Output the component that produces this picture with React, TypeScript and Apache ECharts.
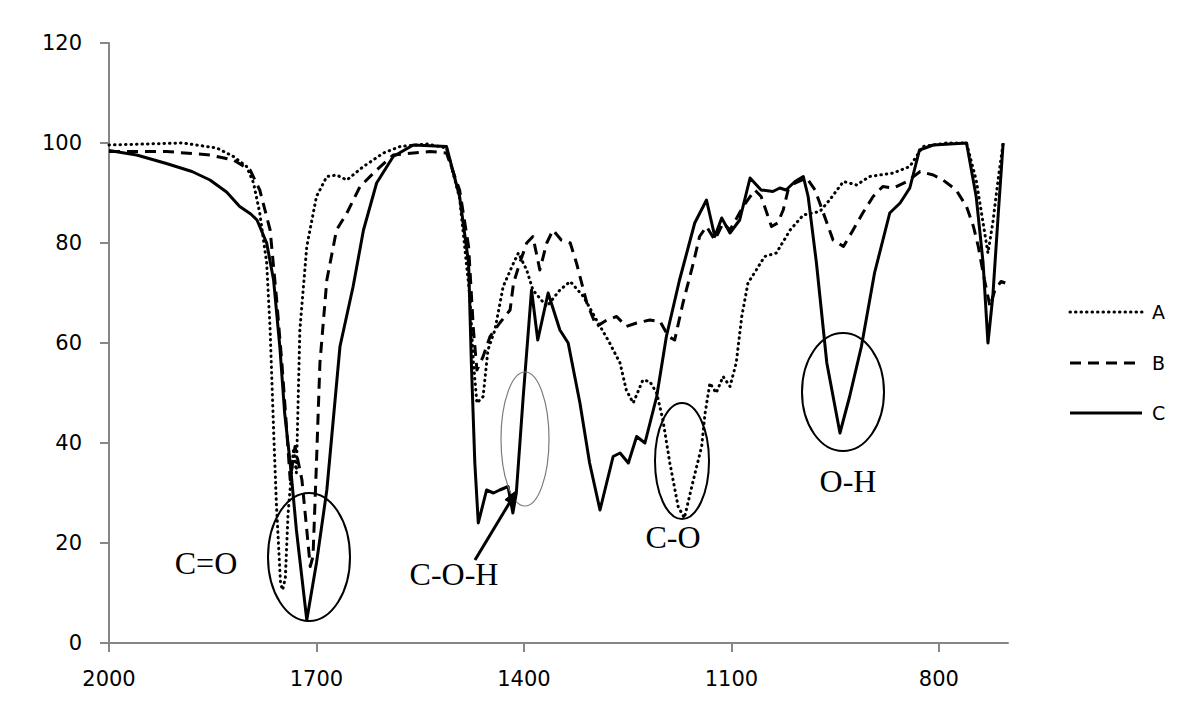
import React, { useEffect, useRef } from "react";
import * as echarts from "echarts";

const xTicks = [2000, 1700, 1400, 1100, 800];
const legendNames = ["A", "B", "C"];

const seriesA: [number, number][] = [
  [2000, 99.6], [1893, 100], [1844, 99], [1820, 97.3], [1801, 95.3], [1791, 92], [1782, 86],
  [1772, 76], [1767, 62.6], [1762, 42.6], [1758, 28], [1752, 12], [1749, 10.6], [1745, 13],
  [1741, 26], [1733, 39], [1729, 34], [1724, 62.6], [1714, 79.3], [1700, 89.3], [1685, 93.3],
  [1671, 93.6], [1656, 92.6], [1632, 95.3], [1603, 98], [1579, 99.3], [1540, 99.8], [1512, 99],
  [1493, 89], [1478, 69], [1473, 56], [1468, 48], [1459, 49.3], [1452, 58.6], [1442, 62.6],
  [1430, 71.3], [1415, 76], [1408, 78], [1396, 74.6], [1387, 70.6], [1367, 67.3], [1348, 70.6],
  [1333, 72.3], [1314, 69.3], [1295, 64.6], [1276, 60], [1261, 56], [1252, 50.6], [1242, 48],
  [1228, 52.6], [1218, 52.3], [1208, 50], [1199, 44.6], [1189, 36], [1177, 27.3], [1168, 25],
  [1155, 32.6], [1143, 39.3], [1138, 46], [1131, 52], [1122, 50], [1112, 53.3], [1102, 51.3],
  [1093, 56], [1085, 65.3], [1076, 72], [1064, 74.6], [1052, 77.3], [1035, 78], [1015, 82.6],
  [996, 85.6], [972, 86.3], [958, 88.6], [938, 92.3], [919, 91.6], [900, 93.3], [866, 94],
  [842, 95.3], [823, 99.3], [789, 100], [760, 100], [746, 92.6], [736, 84], [729, 78],
  [722, 84], [714, 93], [707, 100],
];

const seriesB: [number, number][] = [
  [2000, 98.3], [1917, 98.3], [1854, 97.6], [1820, 96.6], [1796, 94.6], [1782, 90.6],
  [1767, 82.6], [1758, 69.3], [1750, 56], [1743, 42.6], [1738, 32.6], [1731, 39.3],
  [1721, 32.6], [1714, 22.6], [1709, 15.3], [1705, 17.3], [1700, 36], [1695, 56],
  [1685, 72.6], [1671, 82.6], [1656, 86], [1637, 91.3], [1613, 94.6], [1589, 97.6],
  [1536, 98.3], [1512, 98], [1493, 90.6], [1480, 79.3], [1473, 62.6], [1468, 54.6],
  [1459, 57.3], [1449, 61.3], [1435, 64], [1420, 66.6], [1415, 72], [1406, 76], [1396, 80],
  [1387, 81.3], [1377, 74.6], [1367, 80], [1358, 82.6], [1346, 80.6], [1333, 80], [1324, 76],
  [1309, 68], [1295, 63.3], [1280, 64.6], [1266, 65.3], [1252, 63.3], [1237, 64], [1218, 64.6],
  [1203, 64.3], [1191, 61.3], [1182, 60.6], [1170, 68], [1155, 76], [1146, 81.3], [1136, 83.3],
  [1124, 80.6], [1112, 84], [1102, 82.6], [1083, 87.3], [1066, 90.6], [1057, 89.3],
  [1047, 85.3], [1042, 83.3], [1033, 84], [1025, 86.6], [1018, 90.6], [1008, 92], [991, 93],
  [979, 90.6], [967, 86], [953, 80.6], [938, 79.3], [924, 82.6], [910, 86], [895, 89.3],
  [881, 91.3], [866, 91], [846, 92.3], [827, 94.3], [808, 93.6], [794, 92.6], [775, 90.6],
  [760, 87.3], [750, 83.3], [743, 79.3], [734, 72.6], [726, 67.3], [719, 70.6], [710, 72.3],
  [704, 72],
];

const seriesC: [number, number][] = [
  [2000, 98.5], [1960, 97.6], [1917, 95.9], [1880, 94.3], [1854, 92.6], [1830, 90.2],
  [1811, 87.3], [1795, 85.8], [1786, 84.6], [1772, 80],
  [1762, 72.6], [1753, 59.3], [1746, 46], [1738, 36], [1729, 22.6], [1714, 4.6], [1700, 16],
  [1685, 30.6], [1666, 59.3], [1647, 71.3], [1632, 82.6], [1613, 92], [1589, 97.3],
  [1560, 99.6], [1512, 99.3], [1493, 89.3], [1480, 76], [1476, 56], [1471, 36], [1466, 24],
  [1454, 30.6], [1444, 30], [1435, 30.6], [1423, 31.3], [1416, 26], [1411, 30], [1401, 49.3],
  [1389, 70.6], [1380, 60.6], [1365, 70], [1348, 62.6], [1336, 60], [1319, 48], [1305, 36],
  [1290, 26.6], [1271, 37.3], [1261, 38], [1249, 36], [1237, 41.3], [1225, 40], [1208, 49.3],
  [1194, 61.3], [1175, 72.6], [1153, 84], [1136, 88.6], [1124, 81.3], [1114, 85], [1102, 82],
  [1088, 84.6], [1073, 93], [1057, 90.6], [1040, 90.3], [1030, 91], [1021, 90.6], [1008, 92.3],
  [996, 93.3], [989, 89.3], [977, 76], [962, 56], [943, 42], [929, 49.3], [912, 59.3],
  [893, 74], [871, 86], [856, 88], [842, 91], [828, 98.6], [808, 99.6], [760, 100],
  [746, 89.3], [736, 76], [729, 60], [722, 69.3], [714, 86], [707, 100],
];

const annotationLabels = ["C=O", "C-O-H", "C-O", "O-H"];

const axisFont = "DejaVu Sans";
const serifFont = "Liberation Serif";

export default function App() {
  const ref = useRef<HTMLDivElement>(null);

  useEffect(() => {
    if (!ref.current) return;
    const chart = echarts.init(ref.current, undefined, { renderer: "svg" });

    const axisLineStyle = { color: "#868686", width: 2 };

    const ellipse = (cx: number, cy: number, rx: number, ry: number, stroke = "#000", lw = 2) => ({
      type: "ellipse",
      shape: { cx, cy, rx, ry },
      style: { fill: "none", stroke, lineWidth: lw },
      z: 100,
    });
    const label = (text: string, cx: number, cy: number) => ({
      type: "text",
      x: cx,
      y: cy,
      style: {
        text,
        font: `32px "${serifFont}", serif`,
        fill: "#000",
        align: "center",
        verticalAlign: "middle",
      },
      z: 100,
    });

    const lineStyles: any[] = [
      { color: "#000", width: 3, type: [0.5, 5], cap: "round" },
      { color: "#000", width: 3, type: [11, 7] },
      { color: "#000", width: 3, type: "solid" },
    ];
    const legendDash: any[] = [[0.5, 5], [11, 7], null];
    const legendY = [312, 363, 413];

    const legendGraphics: any[] = [];
    legendNames.forEach((name, i) => {
      legendGraphics.push({
        type: "line",
        shape: { x1: 1070, y1: legendY[i], x2: 1142, y2: legendY[i] },
        style: {
          stroke: "#000",
          lineWidth: 3,
          lineDash: legendDash[i] || undefined,
          lineCap: i === 0 ? "round" : "butt",
        },
      });
      legendGraphics.push({
        type: "text",
        x: 1152,
        y: legendY[i],
        style: {
          text: name,
          font: `19px "${axisFont}", sans-serif`,
          fill: "#000",
          align: "left",
          verticalAlign: "middle",
        },
      });
    });

    const datasets = [seriesA, seriesB, seriesC];

    chart.setOption({
      animation: false,
      backgroundColor: "#fff",
      grid: { left: 109, right: 192, top: 43, bottom: 78 },
      xAxis: {
        type: "value",
        inverse: true,
        min: 700,
        max: 2000,
        axisLine: { show: true, onZero: false, lineStyle: axisLineStyle },
        axisTick: { show: true, length: 9, lineStyle: axisLineStyle, customValues: xTicks },
        axisLabel: {
          customValues: xTicks,
          formatter: (v: number) => String(v),
          fontFamily: axisFont,
          fontSize: 21,
          color: "#000",
          margin: 25,
        },
        splitLine: { show: false },
      },
      yAxis: {
        type: "value",
        min: 0,
        max: 120,
        interval: 20,
        axisLine: { show: true, lineStyle: axisLineStyle },
        axisTick: { show: true, length: 9, lineStyle: axisLineStyle },
        axisLabel: {
          formatter: (v: number) => String(v),
          fontFamily: axisFont,
          fontSize: 21,
          color: "#000",
          margin: 27,
        },
        splitLine: { show: false },
      },
      series: legendNames.map((name, i) => ({
        name,
        type: "line",
        data: datasets[i],
        symbol: "none",
        lineStyle: { ...lineStyles[i], join: "round" },
        itemStyle: { color: "#000" },
        z: [3, 2, 4][i],
      })),
      graphic: [
        ellipse(309, 557, 41, 64),
        ellipse(525, 439, 24, 67, "#7a7a7a", 1.2),
        ellipse(682, 461, 27, 58),
        ellipse(843, 392, 41, 59),
        label(annotationLabels[0], 206, 563),
        label(annotationLabels[1], 454, 574),
        label(annotationLabels[2], 673, 537),
        label(annotationLabels[3], 848, 481),
        {
          type: "line",
          shape: { x1: 475, y1: 560, x2: 510, y2: 502 },
          style: { stroke: "#000", lineWidth: 3 },
          z: 100,
        },
        {
          type: "polygon",
          shape: { points: [[517, 490], [514.5, 505.5], [505, 499.7]] },
          style: { fill: "#000", stroke: "#000", lineWidth: 1 },
          z: 100,
        },
        ...legendGraphics,
      ],
    });

    return () => chart.dispose();
  }, []);

  return (
    <div
      ref={ref}
      style={{ position: "fixed", left: 0, top: 0, width: 1200, height: 721, background: "#fff" }}
    />
  );
}
